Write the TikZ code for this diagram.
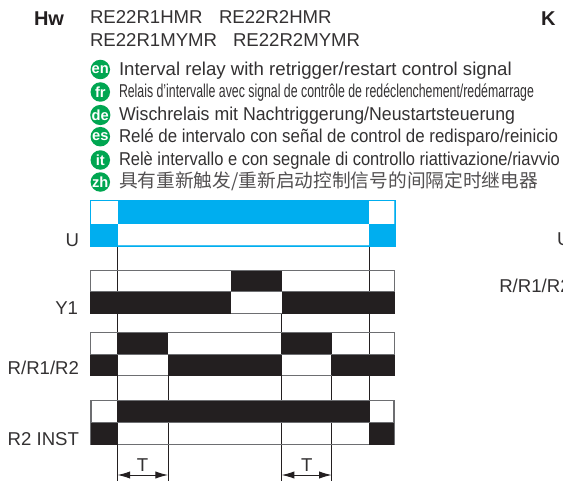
\documentclass[tikz,border=0pt]{standalone}
\usepackage{fontspec}
\setmainfont{Liberation Sans}
\newfontfamily\cjk{Noto Sans CJK SC}
\usetikzlibrary{arrows.meta}
\definecolor{ink}{HTML}{231F20}
\definecolor{txt}{HTML}{333132}
\definecolor{cyanfill}{HTML}{00AEEF}
\definecolor{cyanline}{HTML}{45C3F2}
\definecolor{badge}{HTML}{00A651}
\definecolor{rowline}{HTML}{6D6E71}
\newcommand\fitw[2]{\resizebox{#1\dimexpr0.75pt\relax}{\height}{#2}}
\tikzset{
  lbl/.style={inner sep=0pt,outer sep=0pt,text=txt,font=\fontsize{13.95}{16}\selectfont},
  head/.style={lbl,text=ink,font=\fontsize{15}{18}\selectfont\bfseries},
  tag/.style={circle,fill=badge,inner sep=0pt,minimum size=19.5*0.75pt,text=white,font=\fontsize{11}{12}\selectfont\bfseries},
  cyanrow/.style={draw=cyanline,line width=.8pt,fill=white},
  cyanblock/.style={fill=cyanfill},
  rowbox/.style={draw=rowline,line width=.85pt},
  blk/.style={fill=ink},
  tick/.style={draw=ink,line width=.75pt},
  span/.style={draw=ink,line width=.7pt,{Latex[length=9.5pt,width=5.5pt]}-{Latex[length=9.5pt,width=5.5pt]}}
}
\begin{document}
\begin{tikzpicture}[x=0.75pt,y=-0.75pt]
\useasboundingbox (0,0) rectangle (563,481);
\clip (0,0) rectangle (563,481);
% headings
\node[head,anchor=base west] (hw) at (34,26) {Hw};
\node[head,anchor=base west] (k) at (541,26) {K};
\node[lbl,anchor=base west] (m1) at (90,24) {RE22R1HMR};
\node[lbl,anchor=base west] (m2) at (219,24) {RE22R2HMR};
\node[lbl,anchor=base west] (m3) at (90,46.7) {RE22R1MYMR};
\node[lbl,anchor=base west] (m4) at (233,46.7) {RE22R2MYMR};
% language lines
\node[tag] (en) at (100.3,69.5) {en};
\node[tag] (fr) at (100.3,92) {fr};
\node[tag] (de) at (100.3,115) {de};
\node[tag] (es) at (100.3,136.7) {es};
\node[tag] (it) at (100.3,160) {it};
\node[tag] (zh) at (100.3,182) {zh};
\node[lbl,anchor=base west] (ten) at (119,76) {\fitw{392.7}{Interval relay with retrigger/restart control signal}};
\node[lbl,anchor=base west] (tfr) at (119,97.5) {\fitw{415}{Relais d'intervalle avec signal de contrôle de redéclenchement/redémarrage}};
\node[lbl,anchor=base west] (tde) at (119,120.7) {\fitw{396}{Wischrelais mit Nachtriggerung/Neustartsteuerung}};
\node[lbl,anchor=base west] (tes) at (119,142.7) {\fitw{439}{Relé de intervalo con señal de control de redisparo/reinicio}};
\node[lbl,anchor=base west] (tit) at (119,165.7) {\fitw{441}{Relè intervallo e con segnale di controllo riattivazione/riavvio}};
\node[lbl,anchor=base west,text=txt!85,font=\fontsize{13.95}{16}\selectfont\cjk] (tzh) at (119,187) {\fitw{419}{具有重新触发/重新启动控制信号的间隔定时继电器}};
% row labels
\node[lbl,anchor=base east] (lu) at (79,246) {U};
\node[lbl,anchor=base east] (ly) at (78,314) {Y1};
\node[lbl,anchor=base east] (lr) at (79,374) {R/R1/R2};
\node[lbl,anchor=base east] (li) at (79,445) {R2 INST};
\node[lbl,anchor=base west] (ru) at (557,245) {U};
\node[lbl,anchor=base west] (rr) at (499.3,292.7) {R/R1/R2};
% U
\draw[cyanrow] (90.5,200.5) rectangle (394.5,245.5);
\fill[cyanblock] (117.5,200) rectangle (369,223.5);
\fill[cyanblock] (90,223.5) rectangle (117.5,246);
\fill[cyanblock] (369,223.5) rectangle (395,246);
\draw[cyanfill,line width=.6pt] (90,200) rectangle (395,246);
% vertical guides
\coordinate (a0) at (117.5,247); \coordinate (a1) at (117.5,481);
\coordinate (b0) at (369,247);   \coordinate (b1) at (369,445);
\coordinate (c0) at (168,354);   \coordinate (c1) at (168,481);
\coordinate (d0) at (281.7,314); \coordinate (d1) at (281.7,481);
\coordinate (e0) at (331.7,354); \coordinate (e1) at (331.7,481);
\draw[tick] (a0) -- (a1);
\draw[tick] (b0) -- (b1);
\draw[tick] (c0) -- (c1);
\draw[tick] (d0) -- (d1);
\draw[tick] (e0) -- (e1);
% Y1
\draw[rowbox] (90.5,270.5) rectangle (394.5,313.5);
\fill[blk] (231,270.5) rectangle (281.7,291.7);
\fill[blk] (90,291.7) rectangle (231,313.5);
\fill[blk] (281.7,291.7) rectangle (395,313.5);
\draw[rowline,line width=.7pt] (90,291.7) -- (395,291.7);
% R
\draw[rowbox] (90.5,332.5) rectangle (394.5,375.5);
\fill[blk] (117.5,332.5) rectangle (168,354);
\fill[blk] (281.7,332.5) rectangle (331.7,354);
\fill[blk] (90,354) rectangle (117.5,375.5);
\fill[blk] (168,354) rectangle (281.7,375.5);
\fill[blk] (331.7,354) rectangle (395,375.5);
\draw[rowline,line width=.7pt] (90,354) -- (395,354);
% R2 INST
\draw[rowbox] (91,400.5) rectangle (394,444.5);
\fill[blk] (117.5,400.5) rectangle (369,422);
\fill[blk] (90.5,422) rectangle (117.5,444.5);
\fill[blk] (369,422) rectangle (394,444.5);
\draw[rowline,line width=.7pt] (91,422) -- (394,422);
% T spans
\coordinate (s1a) at (117.5,475); \coordinate (s1b) at (168,475);
\coordinate (s2a) at (281.7,475); \coordinate (s2b) at (331.7,475);
\draw[span] (s1a) -- (s1b);
\draw[span] (s2a) -- (s2b);
\node[lbl,anchor=base] (t1) at (142.5,471) {T};
\node[lbl,anchor=base] (t2) at (306.7,471) {T};
\end{tikzpicture}
\end{document}
